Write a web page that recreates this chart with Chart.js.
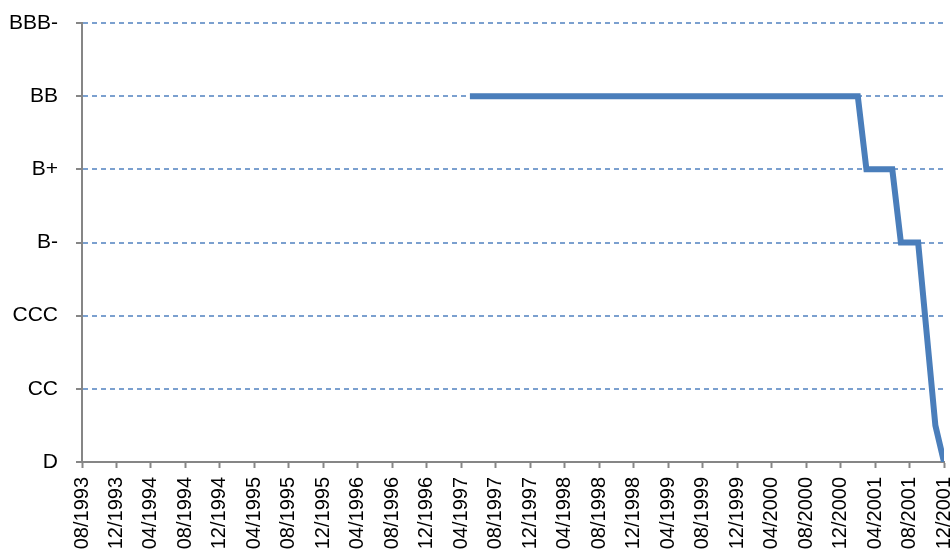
<!DOCTYPE html>
<html>
<head>
<meta charset="utf-8">
<script src="https://cdn.jsdelivr.net/npm/chart.js@4/dist/chart.umd.min.js"></script>
<style>
  html, body { margin: 0; padding: 0; background: #fff; overflow: hidden; }
  #wrap { position: relative; width: 951px; height: 560px; }
</style>
</head>
<body>
<div id="wrap"><canvas id="ratingChart"></canvas></div>
<script>
// echelle des notes (une etiquette sur deux est affichee)
var ratingScale = ["D", "C", "CC", "CCC-", "CCC", "CCC+", "B-", "B", "B+", "BB-", "BB", "BB+", "BBB-"];

// changements de note (mois/annee)
var ratingDates = ["05/1997", "02/2001", "03/2001", "06/2001", "07/2001", "09/2001", "11/2001", "12/2001"];
var ratingValues = ["BB", "BB", "B+", "B+", "B-", "B-", "C", "D"];

// axe des dates
var startMonth = "08/1993";
var endMonth = "12/2001";
var monthStep = 4;

function monthIndex(s) {
    var p = s.split("/");
    var s0 = startMonth.split("/");
    return (parseInt(p[1]) - parseInt(s0[1])) * 12 + (parseInt(p[0]) - parseInt(s0[0]));
}

function monthLabel(i) {
    var s0 = startMonth.split("/");
    var total = parseInt(s0[1]) * 12 + parseInt(s0[0]) - 1 + i;
    var y = Math.floor(total / 12);
    var m = total % 12 + 1;
    return (m < 10 ? "0" + m : "" + m) + "/" + y;
}

var points = ratingDates.map(function (d, k) {
    return { x: monthIndex(d), y: ratingScale.indexOf(ratingValues[k]) };
});

var axisGray = "#868686";
var gridBlue = "#7ba0cf";

var ctx = document.getElementById("ratingChart").getContext("2d");
var ratingChart = new Chart(ctx, {
    type: "line",
    data: {
        datasets: [{
            label: "Notation",
            data: points,
            borderColor: "#4a7ebb",
            borderWidth: 6,
            pointRadius: 0,
            tension: 0,
            fill: false
        }]
    },
    options: {
        responsive: true,
        maintainAspectRatio: false,
        animation: false,
        layout: { padding: { top: 23, right: 7, left: 0, bottom: 0 } },
        plugins: {
            legend: { display: false },
            tooltip: { enabled: false }
        },
        scales: {
            x: {
                type: "linear",
                min: 0,
                max: monthIndex(endMonth),
                ticks: {
                    stepSize: monthStep,
                    autoSkip: false,
                    maxRotation: 90,
                    minRotation: 90,
                    padding: 9,
                    color: "#000",
                    font: { family: "Liberation Sans", size: 20 },
                    callback: function (v) { return monthLabel(v); }
                },
                grid: {
                    drawOnChartArea: false,
                    color: axisGray,
                    tickColor: axisGray,
                    tickLength: 6,
                    tickWidth: 2
                },
                border: { color: axisGray, width: 2 },
                afterFit: function (scale) {
                    scale.height = 98;
                    scale.paddingLeft = 0;
                    scale.paddingRight = 0;
                }
            },
            y: {
                min: 0,
                max: ratingScale.length - 1,
                ticks: {
                    stepSize: 2,
                    padding: 18,
                    color: "#000",
                    font: { family: "Liberation Sans", size: 21 },
                    callback: function (v) { return ratingScale[v]; }
                },
                grid: {
                    color: gridBlue,
                    lineWidth: 2,
                    tickColor: axisGray,
                    tickLength: 6,
                    tickWidth: 2
                },
                border: { color: axisGray, width: 2, dash: [5, 4] },
                afterFit: function (scale) {
                    scale.width = 82;
                    scale.paddingTop = 0;
                    scale.paddingBottom = 0;
                }
            }
        }
    }
});
</script>
</body>
</html>
